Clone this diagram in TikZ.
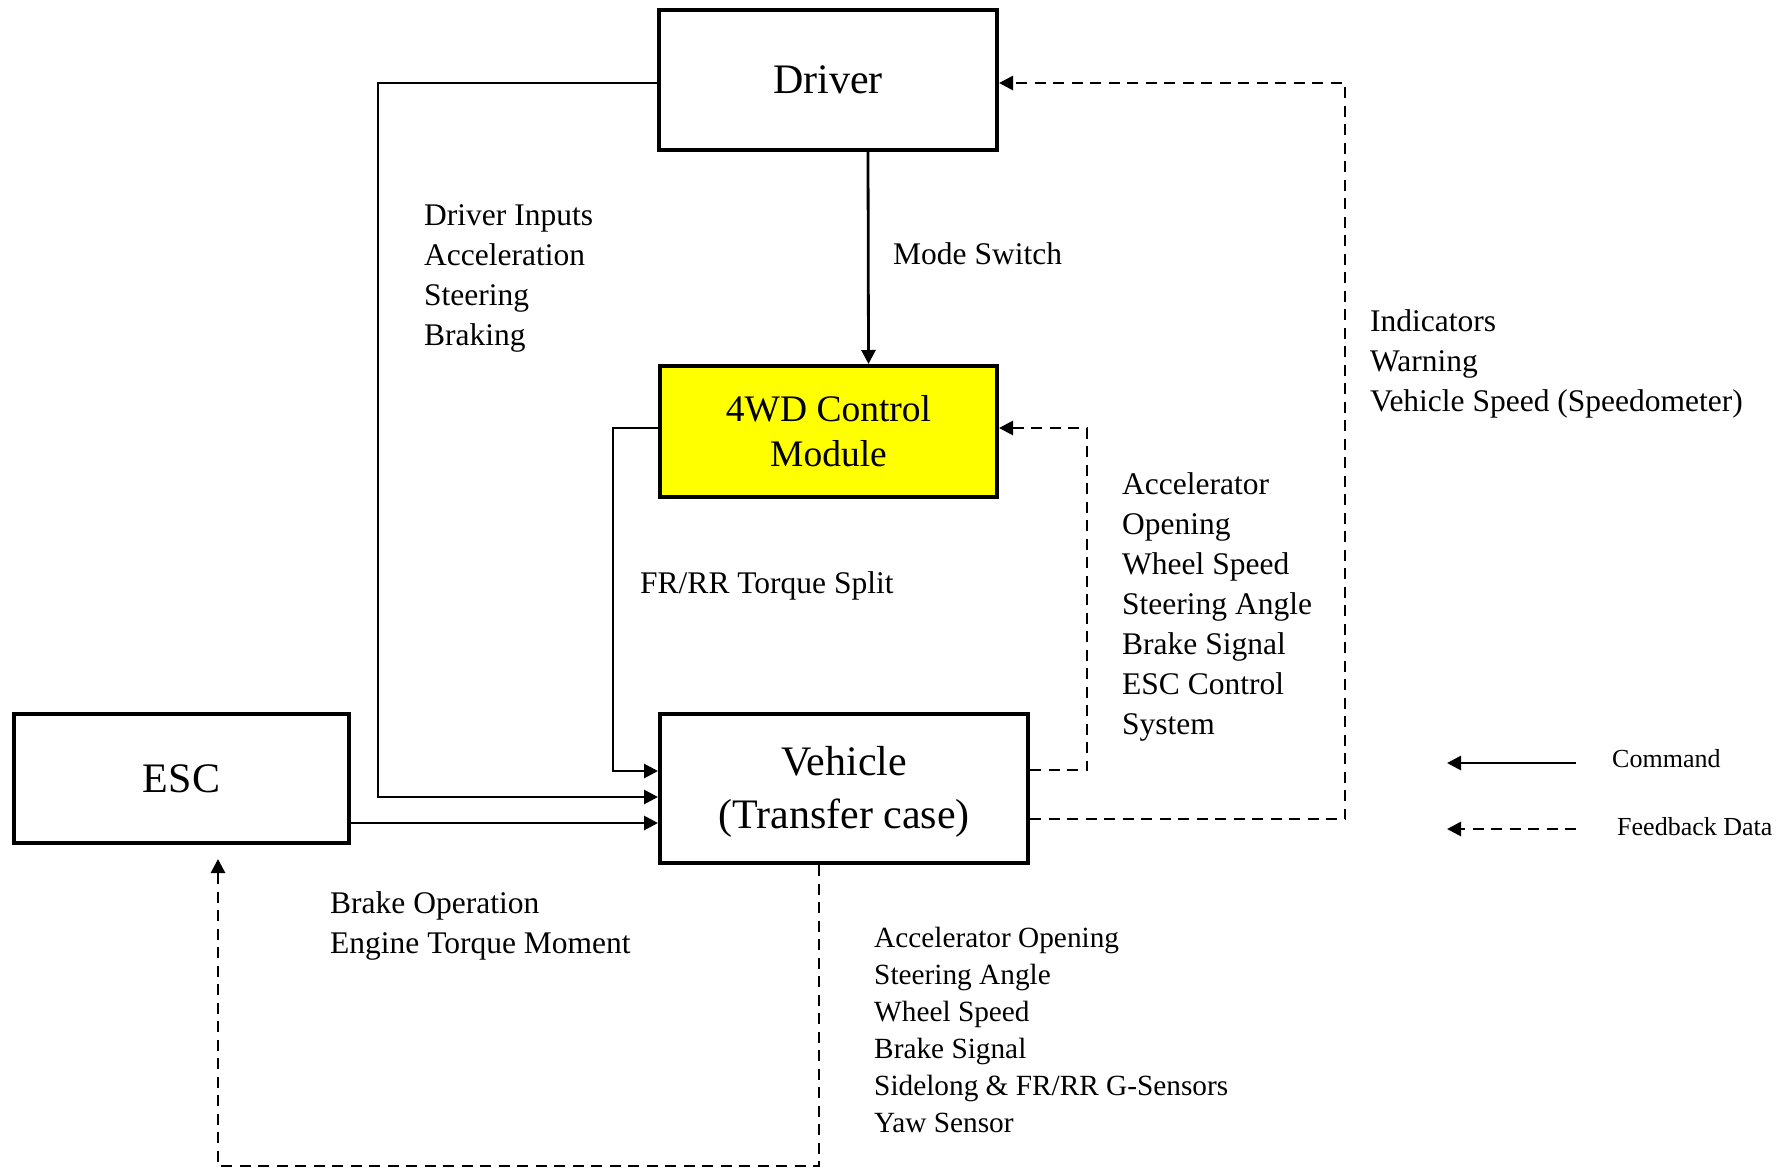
\documentclass[tikz,border=0pt]{standalone}
\usepackage{fontspec}
\setmainfont{Liberation Serif}
\usetikzlibrary{arrows.meta,calc}
\definecolor{modfill}{RGB}{255,255,0}
\tikzset{
  block/.style={draw, line width=4pt, inner sep=0pt, align=center, fill=white},
  cmd/.style={line width=2.8pt, -{Triangle[length=14pt,width=14pt]}},
  fb/.style={cmd, dash pattern=on 11pt off 7.5pt},
  lbl/.style={inner sep=0pt, align=left, anchor=north west, font=\fontsize{31.5}{40}\selectfont},
  small lbl/.style={lbl, font=\fontsize{29.3}{37}\selectfont},
  one line/.style={inner sep=0pt, anchor=base west, font=\fontsize{31.5}{40}\selectfont},
  key text/.style={inner sep=0pt, anchor=base west, font=\fontsize{26}{30}\selectfont},
}
\begin{document}
\begin{tikzpicture}[x=1pt, y=-1pt]
  \useasboundingbox (0,0) rectangle (1784,1170);
  \fill[white] (0,0) rectangle (1784,1170);

  % blocks
  \node[block, minimum width=338pt, minimum height=140pt,
        font=\fontsize{42}{50}\selectfont] (driver) at (828,80) {Driver};
  \node[block, fill=modfill, minimum width=337pt, minimum height=131pt,
        font=\fontsize{37.5}{45}\selectfont] (ctrl) at (828.5,431.5) {4WD Control\\Module};
  \node[block, minimum width=368pt, minimum height=149pt,
        font=\fontsize{42}{53}\selectfont] (veh) at (844,788.5) {\rule{0pt}{36pt}Vehicle\\(Transfer case)};
  \node[block, minimum width=335pt, minimum height=129pt,
        font=\fontsize{42}{50}\selectfont] (esc) at (181.5,778.5) {ESC};

  % command paths
  \draw[cmd] ($(driver.west)+(0,3)$) -| (378,797) -- ($(veh.west)+(0,8.5)$);
  \draw[cmd] ($(driver.south)+(40,0)$) -- ($(ctrl.north)+(40,0)$);
  \draw[cmd] ($(ctrl.west)+(0,-3.5)$) -| (613,771) -- ($(veh.west)+(0,-17.5)$);
  \draw[cmd] ($(esc.east)+(0,44.5)$) -- ($(veh.west)+(0,34.5)$);

  % feedback paths
  \draw[fb] ($(veh.east)+(0,-18.5)$) -| (1087,428) -- ($(ctrl.east)+(0,-3.5)$);
  \draw[fb] ($(veh.east)+(0,30.5)$) -| (1345,83) -- ($(driver.east)+(0,3)$);
  \draw[fb] ($(veh.south)+(-25,0)$) -- (819,1166) -| ($(esc.south)+(36.5,14)$);

  % signal labels
  \node[lbl] (drvin) at (424,204.5) {Driver Inputs\\Acceleration\\Steering\\Braking};
  \node[one line] (mode) at (893,264) {Mode Switch};
  \node[one line] (split) at (640,593) {FR/RR Torque Split};
  \node[lbl] (sens) at (1122,472.5) {Accelerator\\Opening\\Wheel Speed\\Steering Angle\\Brake Signal\\ESC Control\\System};
  \node[lbl] (ind) at (1370,309.5) {Indicators\\Warning\\Vehicle Speed (Speedometer)};
  \node[lbl] (brk) at (330,891.5) {Brake Operation\\Engine Torque Moment};
  \node[small lbl] (vsens) at (874,927) {Accelerator Opening\\Steering Angle\\Wheel Speed\\Brake Signal\\Sidelong \& FR/RR G-Sensors\\Yaw Sensor};

  % key
  \coordinate (cmdA) at (1576,763);
  \coordinate (cmdB) at (1447,763);
  \coordinate (fbA) at (1576,829);
  \coordinate (fbB) at (1447,829);
  \draw[cmd] (cmdA) -- (cmdB);
  \draw[fb] (fbA) -- (fbB);
  \node[key text] (cmdkey) at (1612,767) {Command};
  \node[key text] (fbkey) at (1617,835) {Feedback Data};
\end{tikzpicture}
\end{document}
